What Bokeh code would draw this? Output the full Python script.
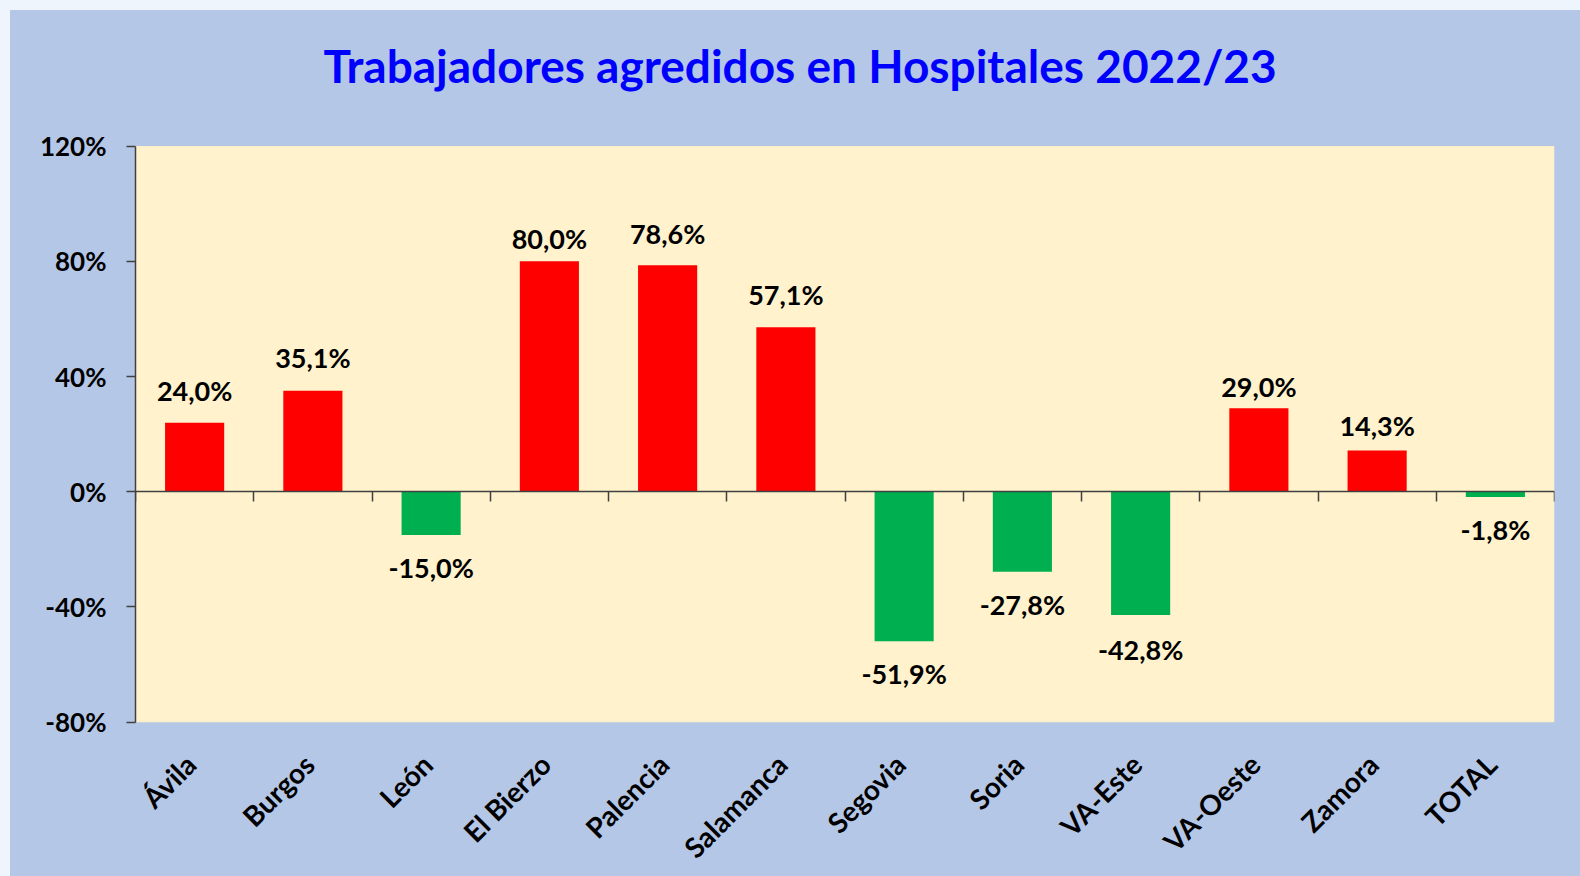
import math
from bokeh.plotting import figure
from bokeh.models import (LinearAxis, FixedTicker, Range1d, Label, ColumnDataSource,
                          Spacer, BoxAnnotation)
from bokeh.layouts import column, row
from bokeh.core.properties import value
from bokeh.embed import file_html
from bokeh.resources import INLINE

categories = ["Ávila", "Burgos", "León", "El Bierzo", "Palencia", "Salamanca",
              "Segovia", "Soria", "VA-Este", "VA-Oeste", "Zamora", "TOTAL"]
values = [24.0, 35.1, -15.0, 80.0, 78.6, 57.1, -51.9, -27.8, -42.8, 29.0, 14.3, -1.8]
y_ticks = [-80, -40, 0, 40, 80, 120]
y_tick_labels = ["-80%", "-40%", "0%", "40%", "80%", "120%"]
title_text = "Trabajadores agredidos en Hospitales 2022/23"

# per-label pixel offsets of the value labels (style, as placed in the original)
label_dy = [-32, -33, 16, -23, -32, -33, 16, 16, 18, -22, -25, 16]

FONT = "Lato"
BLUE_BG = "#B4C7E7"
PLOT_BG = "#FFF2CC"
MARGIN_BG = "#EEF5FC"
RED = "#FF0000"
GREEN = "#00B050"
AXIS = "#404040"

# ---- layout constants (pixels inside the figure) ----
FIG_W, FIG_H = 1570, 866
BORDER_L, BORDER_R = 125, 26
PLOT_TOP, PLOT_BOTTOM = 135.6, 711.7          # where y_ticks[-1] / y_ticks[0] sit
TITLE_BASELINE, TITLE_CENTER = 55, 789.6
CAT_LABEL_SHIFT_PX = -4

n = len(categories)
ymin, ymax = y_ticks[0], y_ticks[-1]
ppu = (PLOT_BOTTOM - PLOT_TOP) / (ymax - ymin)
frame_w = FIG_W - BORDER_L - BORDER_R
ppx = frame_w / n
y_lo = ymin - (FIG_H - PLOT_BOTTOM) / ppu
y_hi = ymax + PLOT_TOP / ppu

xs = [i + 0.5 for i in range(n)]
colors = [RED if v >= 0 else GREEN for v in values]
labels = [("%.1f%%" % v).replace(".", ",") for v in values]

src = ColumnDataSource(dict(x=xs, v=values, c=colors, lab=labels))
pos = ColumnDataSource(dict(x=[x for x, v in zip(xs, values) if v >= 0],
                            v=[v for v in values if v >= 0],
                            lab=[l for l, v in zip(labels, values) if v >= 0],
                            dy=[d for d, v in zip(label_dy, values) if v >= 0]))
neg = ColumnDataSource(dict(x=[x for x, v in zip(xs, values) if v < 0],
                            v=[v for v in values if v < 0],
                            lab=[l for l, v in zip(labels, values) if v < 0],
                            dy=[d for d, v in zip(label_dy, values) if v < 0]))

p = figure(width=FIG_W, height=FIG_H,
           x_range=Range1d(0, n), y_range=Range1d(y_lo, y_hi),
           output_backend="svg", toolbar_location=None,
           x_axis_type=None, y_axis_type=None,
           min_border_left=BORDER_L, min_border_right=BORDER_R,
           min_border_top=0, min_border_bottom=0)
p.border_fill_color = BLUE_BG
p.background_fill_color = BLUE_BG
p.outline_line_color = None
p.styles = {"background-color": BLUE_BG}

# cream plot area
p.add_layout(BoxAnnotation(left=0, right=n, bottom=ymin, top=ymax, level="underlay",
                           fill_color=PLOT_BG, fill_alpha=1.0,
                           line_color="#D8CFA8", line_width=1, line_dash="2 2"))

# title
p.add_layout(Label(x=(TITLE_CENTER - BORDER_L) / ppx,
                   y=ymax + (PLOT_TOP - TITLE_BASELINE) / ppu,
                   text=title_text, text_align="center", text_baseline="alphabetic",
                   text_font=FONT, text_font_size="46px", text_font_style="bold",
                   text_color="#0000FF"))

# y axis
yax = LinearAxis(ticker=FixedTicker(ticks=y_ticks), bounds=(ymin, ymax),
                 major_label_overrides=dict(zip(y_ticks, y_tick_labels)),
                 axis_line_color=AXIS, axis_line_width=1.5,
                 major_tick_line_color=AXIS, major_tick_line_width=1.5,
                 major_tick_in=0, major_tick_out=9,
                 minor_tick_line_color=None,
                 major_label_standoff=20,
                 major_label_text_font=FONT, major_label_text_font_size="26px",
                 major_label_text_font_style="bold", major_label_text_color="black")
p.add_layout(yax, "left")

# category labels under the plot area
lab_ticks = [x + CAT_LABEL_SHIFT_PX / ppx for x in xs]
xlab = LinearAxis(fixed_location=ymin, ticker=FixedTicker(ticks=lab_ticks),
                  major_label_overrides=dict(zip(lab_ticks, categories)),
                  axis_line_color=None, major_tick_line_color=None,
                  minor_tick_line_color=None,
                  major_label_orientation=math.pi / 4,
                  major_label_standoff=31,
                  major_label_text_font=FONT, major_label_text_font_size="28px",
                  major_label_text_font_style="bold", major_label_text_color="black")
p.add_layout(xlab, "below")

# zero line with category boundary ticks
bounds = list(range(n + 1))
x0 = LinearAxis(fixed_location=0, ticker=FixedTicker(ticks=bounds),
                major_label_overrides={b: "" for b in bounds},
                axis_line_color=AXIS, axis_line_width=1.5,
                major_tick_line_color=AXIS, major_tick_line_width=1.5,
                major_tick_in=0, major_tick_out=10,
                minor_tick_line_color=None)
p.add_layout(x0, "below")

p.vbar(x="x", top="v", bottom=0, width=0.5, fill_color="c", line_color=None, source=src)

p.text(x="x", y="v", text="lab", source=pos, text_align="center",
       text_baseline="alphabetic", y_offset="dy",
       text_font=value(FONT), text_font_size="27px", text_font_style="bold",
       text_color="black")
p.text(x="x", y="v", text="lab", source=neg, text_align="center",
       text_baseline="top", y_offset="dy",
       text_font=value(FONT), text_font_size="27px", text_font_style="bold",
       text_color="black")

top_sp = Spacer(height=10, width=1580, styles={"background-color": MARGIN_BG})
left_sp = Spacer(width=10, height=FIG_H, styles={"background-color": MARGIN_BG})
layout = column(top_sp, row(left_sp, p))

open("out.html", "w").write(file_html(layout, INLINE))
